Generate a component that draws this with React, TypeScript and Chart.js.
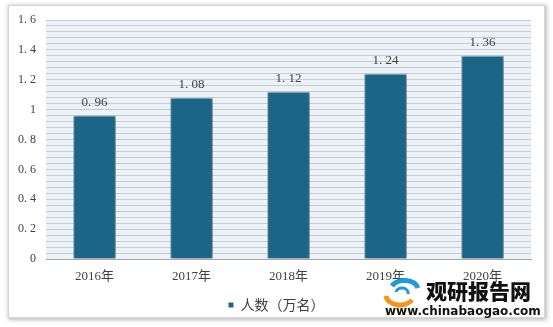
import React, { useEffect, useRef } from "react";
import { Chart, registerables } from "chart.js";

Chart.register(...registerables);

const categories = ["2016年", "2017年", "2018年", "2019年", "2020年"];
const values = [0.96, 1.08, 1.12, 1.24, 1.36];
const seriesName = "人数（万名）";
const yMin = 0;
const yMax = 1.6;
const yMajorStep = 0.2;
const yStripeStep = 0.04;

const fmt = (v: number) => {
  const s = String(Math.round(v * 100) / 100);
  return s.replace(".", ". ");
};

const FONT = 'Liberation Serif, "Noto Sans CJK SC", serif';

export default function App() {
  const ref = useRef<HTMLCanvasElement | null>(null);
  useEffect(() => {
    const canvas = ref.current!;
    const bgPlugin = {
      id: "plotBg",
      beforeDraw(chart: any) {
        const { ctx, chartArea: a } = chart;
        ctx.save();
        ctx.fillStyle = "#edf2f7";
        ctx.fillRect(a.left, a.top, a.right - a.left, a.bottom - a.top);
        ctx.restore();
      },
      beforeDatasetsDraw(chart: any) {
        const ctx = chart.ctx;
        ctx.save();
        ctx.shadowColor = "rgba(0,0,0,0.35)";
        ctx.shadowBlur = 4;
        ctx.shadowOffsetX = 2;
        ctx.shadowOffsetY = 1;
      },
      afterDatasetsDraw(chart: any) {
        chart.ctx.restore();
      },
      afterDraw(chart: any) {
        const { ctx } = chart;
        const meta = chart.getDatasetMeta(0);
        ctx.save();
        ctx.font = "13px " + FONT;
        ctx.fillStyle = "#404040";
        ctx.textAlign = "center";
        ctx.textBaseline = "bottom";
        meta.data.forEach((bar: any, i: number) => {
          ctx.fillText(fmt(values[i]), bar.x, bar.y - 7);
        });
        ctx.restore();
      },
    };
    const chart = new Chart(canvas, {
      type: "bar",
      data: {
        labels: categories,
        datasets: [
          {
            label: seriesName,
            data: values,
            backgroundColor: "#1b6586",
            borderColor: "#9ab8ca",
            borderWidth: 1,
            barPercentage: 0.44,
            categoryPercentage: 1,
          },
        ],
      },
      options: {
        responsive: false,
        animation: false,
        layout: { padding: { left: 0, right: 0, top: 20, bottom: 5 } },
        plugins: {
          tooltip: { enabled: false },
          legend: {
            position: "bottom",
            labels: {
              boxWidth: 5,
              boxHeight: 5,
              padding: 10,
              color: "#404040",
              font: { size: 14, family: '"Noto Sans CJK SC", sans-serif' },
            },
          },
        },
        scales: {
          x: {
            grid: { display: false, drawTicks: false },
            border: { display: true, color: "#a6a6a6" },
            ticks: {
              padding: 10,
              color: "#404040",
              font: { size: 13, family: FONT },
            },
            afterFit(scale: any) {
              scale.height = 29;
            },
          },
          y: {
            min: yMin,
            max: yMax,
            border: { display: false },
            grid: {
              drawTicks: false,
              color: "#c3ccd6",
              lineWidth: 1,
            },
            ticks: {
              stepSize: yStripeStep,
              autoSkip: false,
              padding: 10,
              color: "#404040",
              font: { size: 12, family: FONT },
              callback(v: any) {
                const n = Number(v) / yMajorStep;
                if (Math.abs(n - Math.round(n)) < 1e-6) return fmt(Number(v));
                return "";
              },
            },
            afterFit(scale: any) {
              scale.width = 46;
            },
          },
          yRight: {
            position: "right",
            min: yMin,
            max: yMax,
            border: { display: false },
            grid: { display: false, drawTicks: false },
            ticks: { display: false },
            afterFit(scale: any) {
              scale.width = 22;
            },
          },
        },
      },
      plugins: [bgPlugin],
    } as any);
    return () => chart.destroy();
  }, []);

  return (
    <div
      style={{
        position: "fixed",
        left: 0,
        top: 0,
        width: 553,
        height: 327,
        background: "#ffffff",
        overflow: "hidden",
      }}
    >
      <div
        style={{
          position: "absolute",
          left: 8,
          top: 5,
          width: 535,
          height: 311,
          border: "1px solid #d6d6d6",
          boxShadow: "1px 1px 4px 1px rgba(0,0,0,0.25)",
          background: "#ffffff",
        }}
      />
      <canvas
        ref={ref}
        width={553}
        height={327}
        style={{ position: "absolute", left: 0, top: 0, width: 553, height: 327 }}
      />
      <svg
        width={40}
        height={30}
        style={{ position: "absolute", left: 382, top: 278 }}
        viewBox="0 0 40 30"
      >
        <path d="M4 18 A14 10 0 0 0 30 22" stroke="#f7941d" strokeWidth={5} fill="none" />
        <path d="M10 8 A14 10 0 0 1 36 10" stroke="#1f9bd7" strokeWidth={5} fill="none" />
        <path d="M14 14 A6 5 0 0 1 26 16" stroke="#1f9bd7" strokeWidth={3} fill="none" />
      </svg>
      <div
        style={{
          position: "absolute",
          left: 426,
          top: 278,
          fontFamily: '"Noto Sans CJK SC", sans-serif',
          fontWeight: 900,
          fontSize: 21,
          lineHeight: "24px",
          color: "#111",
          letterSpacing: 0,
        }}
      >
        观研报告网
      </div>
      <div
        style={{
          position: "absolute",
          left: 385,
          top: 304,
          fontFamily: '"DejaVu Sans", sans-serif',
          fontWeight: 700,
          fontSize: 12,
          lineHeight: "14px",
          color: "#111",
          letterSpacing: 0,
        }}
      >
        www.chinabaogao.com
      </div>
    </div>
  );
}
